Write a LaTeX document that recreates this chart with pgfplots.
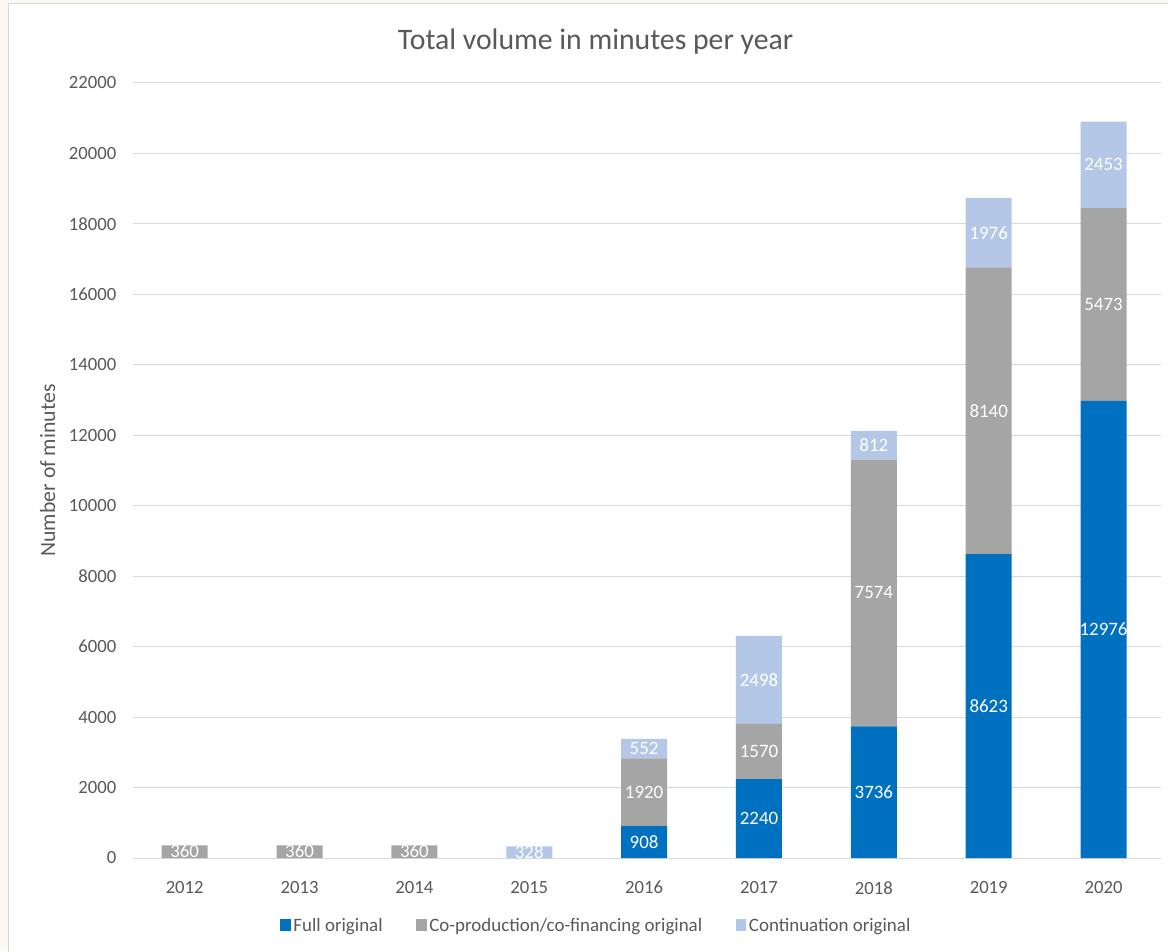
\documentclass[border=0pt]{standalone}
\usepackage{pgfplots}
\pgfplotsset{compat=1.18}
\usepackage{pgfplotstable}
\usepackage{fontspec}
\setmainfont{Carlito}
\definecolor{cfull}{HTML}{0070C0}
\definecolor{cco}{HTML}{A5A5A5}
\definecolor{ccont}{HTML}{B4C7E7}
\definecolor{ctext}{HTML}{595959}
\definecolor{cgrid}{HTML}{D9D9D9}
\definecolor{cbeige}{HTML}{FCF8F4}

\pgfplotstableread{
x year full co cont
0 2012 0 360 0
1 2013 0 360 0
2 2014 0 360 0
3 2015 0 0 328
4 2016 908 1920 552
5 2017 2240 1570 2498
6 2018 3736 7574 812
7 2019 8623 8140 1976
8 2020 12976 5473 2453
}\datatable

\pgfplotsset{
  common/.style={
    at={(99.75pt,69.75pt)}, anchor=south west,
    scale only axis, width=771pt, height=581.25pt,
    xmin=-0.45, xmax=8.5, ymin=0, ymax=22000,
  },
  lab/.style={
    draw=none, mark=none, nodes near coords, point meta=explicit symbolic,
    every node near coord/.append style={anchor=center, text=white, font=\fontsize{14.2pt}{17pt}\selectfont, inner sep=0pt},
  },
}

\begin{document}
\begin{tikzpicture}
\path[use as bounding box] (0,0) rectangle (876pt,713.25pt);
\fill[cbeige] (0,0) rectangle (876pt,713.25pt);
\filldraw[fill=white, draw=gray!30, line width=0.75pt] (6pt,-10pt) rectangle (890pt,710.25pt);

\begin{axis}[common,
  ybar stacked, bar width=34.5pt,
  axis line style={draw=none},
  major tick length=0pt,
  ymajorgrids, grid style={cgrid, line width=0.75pt},
  ytick={0,2000,...,22000},
  scaled y ticks=false,
  xtick={0,...,8},
  xticklabels from table={\datatable}{year},
  /pgf/number format/1000 sep={},
  /pgf/number format/assume math mode=true,
  tick label style={text=ctext, font=\fontsize{14pt}{17pt}\selectfont},
  yticklabel style={xshift=-9pt},
  xticklabel style={yshift=-14pt},
  ylabel={Number of minutes},
  ylabel style={at={(axis description cs:-0.083,0.5)}, anchor=center, text=ctext, font=\fontsize{16.3pt}{19pt}\selectfont},
  title={Total volume in minutes per year},
  title style={at={(axis description cs:0.45,1)}, anchor=center, yshift=25pt, text=ctext, font=\fontsize{22.3pt}{26pt}\selectfont},
  legend style={at={(axis description cs:0.451,-0.087)}, anchor=center, draw=none, fill=none,
    legend columns=3, font=\fontsize{14.2pt}{17pt}\selectfont, text=ctext,
    /tikz/every even column/.append style={column sep=23pt}},
  legend image code/.code={\fill[#1] (0pt,-4.5pt) rectangle (8pt,4.5pt);},
]
\addplot[fill=cfull, draw=none] table[x=x, y=full] {\datatable};
\addplot[fill=cco, draw=none] table[x=x, y=co] {\datatable};
\addplot[fill=ccont, draw=none] table[x=x, y=cont] {\datatable};
\legend{Full original, Co-production/co-financing original, Continuation original}
\end{axis}

\begin{axis}[common, hide axis]
\addplot[lab, x filter/.expression={\thisrow{full}==0 ? nan : x}] table[x=x, y expr=\thisrow{full}/2, meta=full] {\datatable};
\addplot[lab, x filter/.expression={\thisrow{co}==0 ? nan : x}] table[x=x, y expr=\thisrow{full}+\thisrow{co}/2, meta=co] {\datatable};
\addplot[lab, x filter/.expression={\thisrow{cont}==0 ? nan : x}] table[x=x, y expr=\thisrow{full}+\thisrow{co}+\thisrow{cont}/2, meta=cont] {\datatable};
\end{axis}
\end{tikzpicture}
\end{document}
